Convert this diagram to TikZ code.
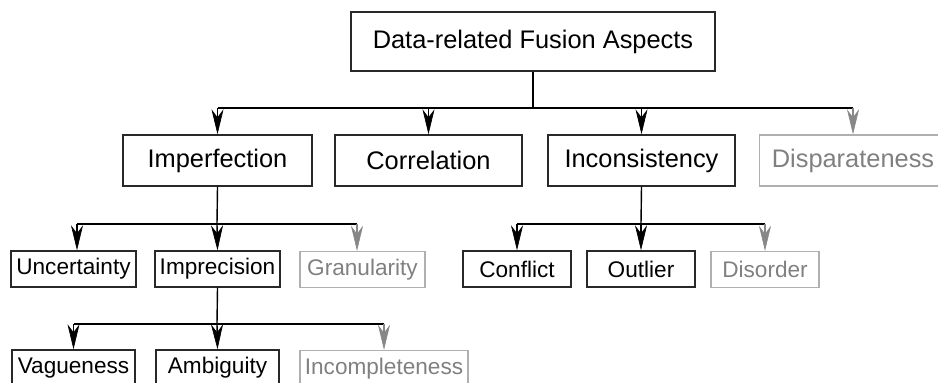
\documentclass[tikz,border=0pt]{standalone}
\usepackage{fontspec}
\setmainfont{Liberation Sans}
\usetikzlibrary{arrows.meta}
\definecolor{boxline}{RGB}{40,40,40}
\definecolor{fadetext}{RGB}{128,128,128}
\definecolor{fadeline}{RGB}{175,175,175}
\definecolor{fadearrow}{RGB}{135,135,135}

\begin{document}
\begin{tikzpicture}[x=0.5pt, y=-0.5pt,
  aspect/.style={draw=boxline, line width=0.7pt, inner sep=0pt, minimum height=25.5pt,
    font=\fontsize{12.7}{15}\selectfont},
  subaspect/.style={aspect, minimum height=18pt, font=\fontsize{11.3}{13}\selectfont},
  faded/.style={draw=fadeline, text=fadetext},
  link/.style={line width=0.7pt, draw=black},
  tip/.style={link, -{Stealth[length=12.5pt, width=6pt, inset=4pt, line width=0.3pt]}},
  fadetip/.style={tip, draw=fadearrow, fill=fadearrow}]

% ---- frame (px units, origin top left) ----
\useasboundingbox (0,0) rectangle (938,383);
\clip (0,0) rectangle (938,383);

% ---- root ----
\node[aspect, minimum width=182pt, minimum height=29.5pt] (top) at (533,41.5) {Data-related Fusion Aspects};

% ---- first level ----
\node[aspect, minimum width=94.5pt] (imperf) at (217.5,160.5) {Imperfection};
\node[aspect, minimum width=93.5pt] (correl) at (428.5,160.5) {Correlation};
\node[aspect, minimum width=93.5pt] (incons) at (641.5,160.5) {Inconsistency};
\node[aspect, faded, minimum width=93.5pt] (dispar) at (853,160.5) {Disparateness};

% ---- second level ----
\node[subaspect, minimum width=62.5pt] (uncert) at (73.5,269) {Uncertainty};
\node[subaspect, minimum width=62.5pt] (imprec) at (217.5,269) {Imprecision};
\node[subaspect, faded, minimum width=62.5pt] (granul) at (362.5,269.5) {Granularity};
\node[subaspect, minimum width=54pt] (confl) at (517,269) {Conflict};
\node[subaspect, minimum width=54pt] (outlier) at (641,269) {Outlier};
\node[subaspect, faded, minimum width=54pt] (disord) at (765,269.5) {Disorder};

% ---- third level (cut by the lower edge) ----
\node[subaspect, minimum width=61.5pt] (vague) at (73.5,368) {Vagueness};
\node[subaspect, minimum width=61.5pt] (ambig) at (217.5,368) {Ambiguity};
\node[subaspect, faded, minimum width=84pt] (incompl) at (384,368.5) {Incompleteness};

% ---- bar joints ----
\coordinate (topbar) at (533,108);
\coordinate (impbar) at (217,224);
\coordinate (impbarL) at (77,224);
\coordinate (impbarR) at (357,224);
\coordinate (incbar) at (641,224);
\coordinate (precbar) at (217,324);

% root -> first level
\draw[link] (top.south) -- (topbar);
\draw[link] (imperf.north |- topbar) -- (dispar.north |- topbar);
\draw[tip] (imperf.north |- topbar) -- (imperf.north);
\draw[tip] (correl.north |- topbar) -- (correl.north);
\draw[tip] (incons.north |- topbar) -- (incons.north);
\draw[fadetip] (dispar.north |- topbar) -- (dispar.north);

% imperfection -> children
\draw[link] (imperf.south) -- (impbar);
\draw[link] (impbarL) -- (impbarR);
\draw[tip] (impbarL) -- (impbarL |- uncert.north);
\draw[tip] (impbar) -- (imprec.north);
\draw[fadetip] (impbarR) -- (impbarR |- granul.north);

% inconsistency -> children
\draw[link] (incons.south) -- (incbar);
\draw[link] (confl.north |- incbar) -- (disord.north |- incbar);
\draw[tip] (confl.north |- incbar) -- (confl.north);
\draw[tip] (incbar) -- (outlier.north);
\draw[fadetip] (disord.north |- incbar) -- (disord.north);

% imprecision -> children
\draw[link] (imprec.south) -- (precbar);
\draw[link] (vague.north |- precbar) -- (incompl.north |- precbar);
\draw[tip] (vague.north |- precbar) -- (vague.north);
\draw[tip] (precbar) -- (ambig.north);
\draw[fadetip] (incompl.north |- precbar) -- (incompl.north);

\end{tikzpicture}
\end{document}
